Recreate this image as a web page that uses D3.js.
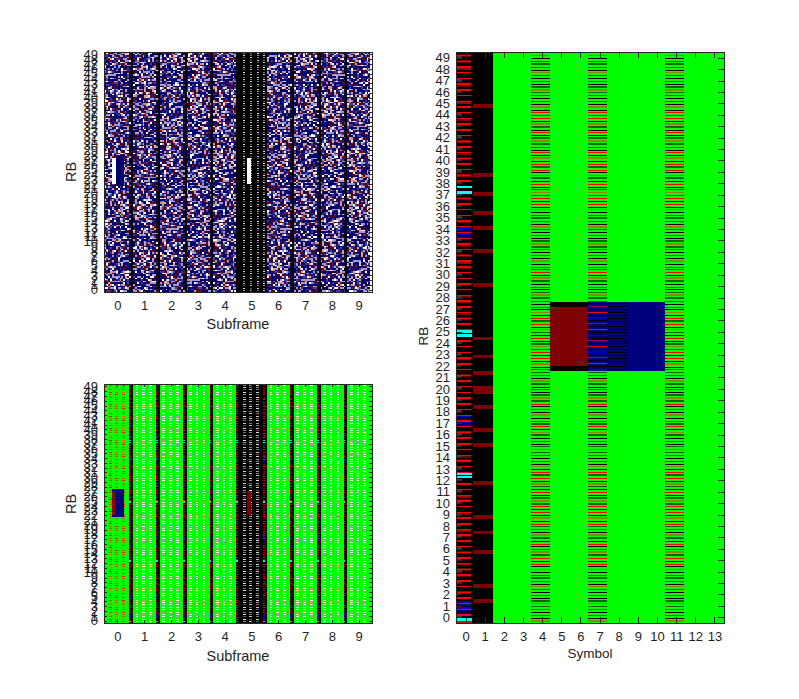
<!DOCTYPE html>
<html><head><meta charset="utf-8">
<script src="https://cdnjs.cloudflare.com/ajax/libs/d3/7.8.5/d3.min.js"></script>
<style>
html,body{margin:0;padding:0;background:#fff}
svg{display:block}
text{font-family:"Liberation Sans",Arial,sans-serif;fill:#1f1f1f}
</style></head><body>
<svg id="c" width="799" height="699"></svg>
<script>
// ---------- tick labels ----------
const rbTicks = [0,1,2,3,4,5,6,7,8,9,10,11,12,13,14,15,16,17,18,19,20,21,22,23,24,25,26,27,28,29,30,31,32,33,34,35,36,37,38,39,40,41,42,43,44,45,46,47,48,49];
const subframeTicks = [0,1,2,3,4,5,6,7,8,9];
const symbolTicks = [0,1,2,3,4,5,6,7,8,9,10,11,12,13];

// ---------- resource-grid readings (subcarrier index, 0..599) ----------
const sym0RedRows = [2,8,14,20,26,32,38,44,50,56,62,68,74,80,86,92,98,104,110,116,122,128,134,140,146,158,164,170,176,182,188,194,200,206,212,218,224,230,236,242,248,254,260,266,272,278,284,290,296,308,314,320,326,332,338,344,350,356,362,368,374,380,386,392,398,404,410,416,422,428,434,440,446,464,470,476,482,488,494,500,506,512,518,524,530,536,542,548,554,560,566,572,578,584,590,596];
const sym0DarkBands = [14,32,50,56,62,74,92,97,115,129,133,171,175,200,236,260,278,320,325,338,343,374,379,386,397,405,422,446,470,488,493,506,524,529,547,565,578,583,590,596];
const sym0GrayDashes = [6,18,30,42,54,66,78,90,102,114,126,138,150,162,174,186,198,210,222,234,246,258,270,282,294,306,318,330,342,354,366,378,390,402,414,426,438,450,462,474,486,498,510,522,534,546,558,570,582,594];
const sym0BlueRows = [9,12,15,18,21,207,210,213,216,405,408,411,414];
const sym0CyanRows = [2.5,152,155,301,305,451,457];
const sym1Bands = [23,39,75,95,111,147,187,203,227,245,263,280,299,355,391,415,431,451,471,543];
const sym1BandHeights = [4,4,4,4,4,4,4,4,4,8,4,4,4,4,4,4,4,4,4,4];
const stripeSymbols = [4,7,11];
const stripeCycle = ["o","k","r","k","r","d","o","d","k","r","k","d","o","k","r","d","r","k"];
const stripeColors = {o:"#8a8a00",k:"#000000",r:"#ff0000",d:"#006a00"};
const allocRows = [265,337];
const allocRedSymbols = [5,6];
const allocBlueSymbols = [8,9,10];
const alloc7Cycle = ["#0000c8","#000000","#ff0000","#000030","#a00050","#000000"];

// ---------- left panels ----------
const controlSubframes = [1,2,3,4,6,7,8,9];
const dashColorsGreen = ["#ffffff","#d0d0c8","#ffffff","#f4d8c8","#a8a8a0","#ffffff"];
const dashColorsFirst = ["#c05a00","#d02000","#808000","#e07020","#6a8000"];
const dashColorsBlack = ["#9a9a9a","#e0e0e0","#5a5a5a","#c8c8c8","#777777"];
const noiseColors = {n:"#000070",b:"#3c3ca4",l:"#9c9cd0",w:"#ffffff",r:"#840000",s:"#dc9c88",k:"#141458",p:"#b85a6a"};
const noiseRows = [
"nlnwnbrnnlwnnsbnrlnnwbnkllnnrnwnlbnnsnnwlnbrnnlnkwnnlbsnnrnl",
"wnbnnrlnsnnbwlnnknrlnnbwnnslnbnlrnwnnblnkwsnnlnrbnnwlnnsbrnn",
"nsnlknnwbnrnlnwnnbslnrnkwnbnlnnsnrwlnnbnnlwrknslnnbnrwnnlbnl",
"lnrnnwlnnbnskwnlrnnbnlwnsnrnnblnwknnrlsnbnwnlnnrbnslnknwnlnb",
"nwnbslnnrnlbnnwnksnlnrbwnnlnsnbrnlnwnnbsnlrnwnnklbnnsrlnwnbn",
"bnlnnrwnslnkbnnlrwnnbslnnwknrnlbnsnnwrlnbnnlskwnrnblnnwlnrsn",
"nnwrlnbnnwsnlbrnknwlnnsbnrnwlnnbknslnrnbwnlnsnnbrlnwnnkslnbr",
"lknsnbnwlrnnbnlsnwnrbnlnknsnwlnbnrnnlwsbnnrlnknbwnslnnrlbnwn",
"nbnlwnrsnnlbwnkrnnslwbnnlnrnsbnwnlnkrnbslwnnrbnlnwsnnkbrnlnw",
"rnwnnblnkrlnwsnbnnlrnwbnsnnlkwnrnbnlsnwrnnlbnkwsnlnrbnnwlnsn",
"nlsbnrnnwlnbknslnrwnnbnlwsrnnbkwlnnsrnbnlwnnrsbnlknwnrlnbsnn",
"wnnlknbsrnwnlnbrnswnnlbknrnwslnbnnlrkwnbsnnlwrnbnlnskrwnnbln",
"nrbnlwnnsnbklnrwnsnblnnrwknlsnbwnrnlnbsknwlnrnnbswlnknrbnnlw",
"lnwnsrnlbnnwrknlsbnnwnrlnbkswnnlrnbnwnslnkrbnwlnnsbrnwnlknsb",
"nsnbnlknwrnbsnlnwrknbnlsnrwnbklnsnrwnlbnnskwrlnbnnswlrnknbnl",
"bwnrnnslnbkwnlrnsnwbnlknrsnlwnbnrnkslwnnbrlnsnwkbnrlnnswnlbr",
"nnlkwsnbrnlnwnsbknrlwnnsbnlrknwnlbsnrnwlknbnsrwlnnbksnrlwnnb",
"rlnnbnwnklsrnbwnlnnskrbwnlnsnrbklnwnsnlrbnkwsnnlrbnwnknslrnb",
"nwbsnlrnnbwknslnrbnwlsnknrblnwsnnrkbnlwsrnnblkwnsnlrnbnwksnl",
"knlnrwnbsnklrwnbnlsnrkbwlnnsrnklbnwsnrlnnbkswnrlnnbkwsrnlnbn",
"nrsnlbnwkrnlsnbwrnknlsbwnrnlkbsnwrnnlbksnwrlnnbswknrlnbnwsnk",
"lbnwnrknslnbwrsnnklbrnwsnlknbrwnsnlkrbnwslnnkrbwsnlnrkbnwlsn",
"wnklsnrbnwlnsknrbwnlsnrkbnwlnsrknbwlnsnrkbnlwsnnrbklnwsrnbkl",
"nsrbnwnlknsnrwbnlksrnnwblkrsnnwlbnkrnsnwblnkrsnlwnbnkrsnlnwb",
"bnlkwnnsrblnnwknsrnblnwknrnsblwnnkrslnnbwknrnslbwnknrlsnbnwn",
"nkrlnwsnbnkrlnwnsbnnkrlnwsnbklnrwnnsbknlrnwnsbknlnrwsbnkrnln",
"rwnbnslknrwnnblskrnnwbnlnskrnwnblnskrnnwblnsnkrwnblnnkswrnbl",
"nbksnlnwrnbknsnlwrnnbkslnnwrbnkslnwnrbnkslnwrbnknslnwrnbkslw",
"lsnnwrkbnlnsnwrknbnlsnnwkrbnnlsnwkrnbnlswnknrbnlnswnkrbnlnsw",
"wrbnnklsnnwrbnklnsnwrbnnkslnwnrbnkslnnwrbknnslnwrnbknsnlnrwb",
"nlkssbwnnrnlkbnswnrnnlkbnswrnnnlkbswnrnnlbkswnrnlnbknswrnlnb",
"snwnkrlbnnsnwkrnlbnsnwnkrlnbsnnwkrlnbsnwnkrnlbsnnwkrnlbnswnk"
];

// ---------- panels geometry ----------
const svg = d3.select("#c");
const panels = {
  a:{x0:104,x1:372,y0:52,y1:292},
  b:{x0:104,x1:372,y0:384,y1:623},
  c:{x0:456,x1:724,y0:52,y1:623}
};
const colDomain = [0.366,140.366];
const symDomain = [-0.41,13.59];

function drawCells(p, xScale, yScale, cells){
  const clipId = "clip"+p.x0+"_"+p.y0;
  svg.append("clipPath").attr("id",clipId).append("rect")
    .attr("x",p.x0).attr("y",p.y0).attr("width",p.x1-p.x0).attr("height",p.y1-p.y0);
  svg.append("g").attr("clip-path","url(#"+clipId+")").attr("shape-rendering","crispEdges")
    .selectAll("rect").data(cells).join("rect")
    .attr("x",d=>xScale(d.x0))
    .attr("width",d=>xScale(d.x1)-xScale(d.x0))
    .attr("y",d=>yScale(d.r1))
    .attr("height",d=>Math.max(1,yScale(d.r0)-yScale(d.r1)))
    .attr("fill",d=>d.c);
}
function frame(p, xTicksArr, xlabel, lenX, lenY, labelCfg){
  const xs = d3.scaleLinear().domain([xTicksArr[0]-0.5,xTicksArr[xTicksArr.length-1]+0.5]).range([p.x0,p.x1]);
  const ys = d3.scaleLinear().domain([-0.5,49.5]).range([p.y1,p.y0]);
  const style = g=>{g.select(".domain").remove();
    g.selectAll("line").attr("stroke","#2a2a2a").attr("shape-rendering","crispEdges");
    g.selectAll("text").attr("font-size",13).attr("font-family",'"Liberation Sans",Arial,sans-serif').attr("fill","#1f1f1f");};
  svg.append("g").attr("transform",`translate(0,${p.y1})`)
    .call(d3.axisBottom(xs).tickValues(xTicksArr).tickSize(-lenX).tickPadding(9).tickFormat(d3.format("d"))).call(style);
  svg.append("g").attr("transform",`translate(0,${p.y0})`)
    .call(d3.axisTop(xs).tickValues(xTicksArr).tickSize(-lenX).tickFormat("")).call(style);
  svg.append("g").attr("transform",`translate(${p.x0},0)`)
    .call(d3.axisLeft(ys).tickValues(rbTicks).tickSize(-lenY).tickPadding(6).tickFormat(d3.format("d"))).call(style);
  svg.append("g").attr("transform",`translate(${p.x1},0)`)
    .call(d3.axisRight(ys).tickValues(rbTicks).tickSize(-lenY).tickFormat("")).call(style);
  svg.append("rect").attr("x",p.x0).attr("y",p.y0).attr("width",p.x1-p.x0).attr("height",p.y1-p.y0)
    .attr("fill","none").attr("stroke","#262626").attr("stroke-width",1).attr("shape-rendering","crispEdges");
  svg.append("text").attr("x",labelCfg.xx).attr("y",labelCfg.xy).attr("text-anchor","middle")
    .attr("font-size",labelCfg.fs).text(xlabel);
  svg.append("text").attr("transform",`translate(${labelCfg.yx},${labelCfg.yy}) rotate(-90)`)
    .attr("text-anchor","middle").attr("font-size",labelCfg.fs).text("RB");
}

// ---------- right panel: single subframe by symbol ----------
(function(){
  const p = panels.c, cells = [];
  const X = d3.scaleLinear().domain(symDomain).range([p.x0,p.x1]);
  const Y = d3.scaleLinear().domain([0,600]).range([p.y1,p.y0]);
  const add=(x0,x1,r0,r1,c)=>cells.push({x0,x1,r0,r1,c});
  add(-1,14,0,600,"#00ff00");
  add(-1,1.5,0,600,"#000000");
  sym0DarkBands.forEach((r,i)=>add(-0.5,0.35,r-1.5,r+1.5,i%3===1?"#a00000":"#700000"));
  sym0RedRows.forEach(r=>add(-0.5,0.35,r-0.5,r+1,"#ff0000"));
  sym0GrayDashes.forEach(r=>add(-0.5,-0.1,r,r+1.5,"#3a3a3a"));
  sym0BlueRows.forEach((r,i)=>add(-0.5,0.35,r,r+1.6,i%2?"#000070":"#0000d0"));
  sym0CyanRows.forEach(r=>add(-0.5,0.4,r,r+2.5,"#00ffff"));
  add(-0.5,0.4,0,1.8,"#ff0000");
  sym1Bands.forEach((r,i)=>add(0.5,1.5,r-sym1BandHeights[i]/2,r+sym1BandHeights[i]/2,"#7e0000"));
  stripeSymbols.forEach(s=>{
    for(let i=0;i<200;i++){
      const r=2+i*3, key=stripeCycle[i%stripeCycle.length];
      add(s-0.5,s+0.5,r-0.5,r+(key==="o"||key==="d"?1.2:0.5),stripeColors[key]);
    }
  });
  // scheduled allocation
  add(4.5,6.5,allocRows[0],allocRows[1],"#000000");
  allocRedSymbols.forEach(s=>add(s-0.5,s+0.5,allocRows[0]+5,allocRows[1]-5,"#7e0000"));
  add(6.5,10.5,allocRows[0],allocRows[1],"#00007e");
  for(let r=allocRows[0]+1,i=0;r<allocRows[1];r+=3,i++){
    add(6.5,7.5,r,r+1,alloc7Cycle[i%alloc7Cycle.length]);
    add(7.5,8.5,r,r+0.8,"#000000");
  }
  drawCells(p,X,Y,cells);
  frame(p,symbolTicks,"Symbol",5.7,5.7,{xx:590,xy:658,fs:13.5,yx:428,yy:336});
})();

// ---------- left panels shared builders ----------
function leftPanel(p, build, cfg){
  const X = d3.scaleLinear().domain(colDomain).range([p.x0,p.x1]);
  const Y = d3.scaleLinear().domain([0,600]).range([p.y1,p.y0]);
  const cells=[];
  build((x0,x1,r0,r1,c)=>cells.push({x0,x1,r0,r1,c}));
  drawCells(p,X,Y,cells);
  frame(p,subframeTicks,"Subframe",2.7,2.7,cfg);
}

// top-left: demodulated symbol magnitudes
leftPanel(panels.a, add=>{
  const R=noiseRows.length, C=noiseRows[0].length;
  for(let c=0;c<140;c++){
    const sf=Math.floor(c/14), s=c%14;
    if(c>=70&&c<=85) continue;
    if(s===1&&sf>0){continue;}
    for(let i=0;i<150;i++){
      const row=noiseRows[i%R], ch=row[(c*7+Math.floor(i/R)*17)%C];
      if(s===0&&sf>0&&i%3!==0){ add(c-.5,c+.5,i*4,i*4+4,"#0a0a20"); continue; }
      add(c-.5,c+.5,i*4,i*4+4,noiseColors[ch]);
    }
  }
  controlSubframes.forEach(sf=>add(sf*14+0.5,sf*14+1.5,0,600,"#000000"));
  add(69.5,85.5,0,600,"#000000");
  [73.5,77,81,84].forEach((col,j)=>{
    for(let r=2,i=0;r<600;r+=6,i++) add(col-.5,col+.5,r,r+2.5,dashColorsBlack[(i+j)%dashColorsBlack.length]);
  });
  // scheduled allocation
  add(4.6,6.6,270,336,"#ffffff");
  add(6.6,10.6,264,342,"#00006e");
  add(75.1,77.1,270,334,"#ffffff");
},{xx:238,xy:329,fs:14.5,yx:76,yy:172});

// bottom-left: constellation class
leftPanel(panels.b, add=>{
  add(-1,141,0,600,"#00ff00");
  add(69.5,85.5,0,600,"#000000");
  add(-0.5,0.5,0,600,"#000000");
  controlSubframes.forEach(sf=>{
    const c0=sf*14;
    add(c0-.5,c0+1.5,0,600,"#000000");
    sym0RedRows.forEach(r=>add(c0-.5,c0+.5,r,r+2,"#e00000"));
    sym0DarkBands.forEach(r=>add(c0-.5,c0+.5,r-2,r+2,"#7e0000"));
    sym0BlueRows.forEach(r=>add(c0-.5,c0+.5,r,r+2,"#0000d0"));
    sym0CyanRows.forEach(r=>add(c0-.5,c0+.5,r,r+2.5,"#00e8e8"));
    sym1Bands.forEach(r=>add(c0+.5,c0+1.5,r-2,r+2,"#5e0000"));
  });
  sym0RedRows.forEach(r=>add(-0.5,0.5,r,r+2,"#c00000"));
  sym0CyanRows.forEach(r=>add(69.5,70.5,r,r+2.5,"#00e8e8"));
  sym0RedRows.forEach(r=>add(69.5,70.5,r,r+2,"#b02020"));
  subframeTicks.forEach(sf=>{
    stripeSymbols.forEach((s,j)=>{
      const col=sf*14+s-(s===4?0.4:s===11?0.4:0);
      const pal= sf===0?dashColorsFirst: sf===5?dashColorsBlack: dashColorsGreen;
      for(let r=2,i=0;r<600;r+=6,i++) add(col-.7,col+.7,r,r+2.5,pal[(i+j)%pal.length]);
    });
  });
  // scheduled allocation, subframe 0
  add(4.6,10.6,allocRows[0],allocRows[1],"#00007e");
  add(4.6,6.8,allocRows[0]+6,allocRows[1]-6,"#7e0000");
  for(let r=allocRows[0]+6;r<allocRows[1]-6;r+=6) add(4.8,5.6,r,r+2.5,"#c00020");
  // scheduled allocation, subframe 5
  add(75.1,77.1,allocRows[0]+6,allocRows[1]-6,"#7e0000");
},{xx:238,xy:661,fs:14.5,yx:76,yy:504});
</script>
</body></html>
